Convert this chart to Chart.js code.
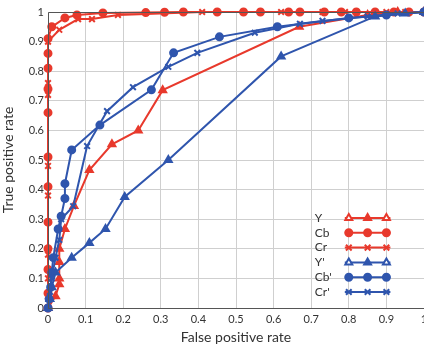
<!DOCTYPE html>
<html>
<head>
<meta charset="utf-8">
<script src="https://cdn.jsdelivr.net/npm/chart.js@4/dist/chart.umd.min.js"></script>
<style>
  html, body { margin: 0; padding: 0; background: #fff; overflow: hidden; }
  /* the plot runs past the right edge of the window, as in the reference */
  #wrap { width: 430px; height: 348px; position: relative; }
</style>
</head>
<body>
<div id="wrap"><canvas id="roc"></canvas></div>
<script>
const tickValues = [0, 0.1, 0.2, 0.3, 0.4, 0.5, 0.6, 0.7, 0.8, 0.9, 1];

// red: Y, Cb, Cr
const yFpr  = [0, 0.02, 0.03, 0.03, 0.03, 0.03, 0.045, 0.069, 0.11, 0.17, 0.24, 0.305, 0.668, 0.85, 0.93, 1];
const yTpr  = [0, 0.04, 0.08, 0.1, 0.155, 0.2, 0.267, 0.345, 0.466, 0.553, 0.60, 0.736, 0.95, 0.99, 1, 1];

const cbFpr = [0, 0, 0, 0, 0, 0, 0, 0, 0, 0, 0, 0, 0.01, 0.045, 0.077, 0.146, 0.26, 0.31, 0.36, 0.45, 0.52, 0.565, 0.64, 0.67, 0.735, 0.78, 0.82, 0.87, 0.92, 0.96, 1];
const cbTpr = [0, 0.05, 0.13, 0.2, 0.29, 0.41, 0.51, 0.66, 0.74, 0.81, 0.86, 0.91, 0.95, 0.98, 0.99, 0.997, 0.998, 0.999, 1, 1, 1, 1, 1, 1, 1, 1, 1, 1, 1, 1, 1];

const crFpr = [0, 0, 0, 0, 0, 0, 0, 0, 0, 0, 0.03, 0.08, 0.117, 0.186, 0.41, 0.62, 0.73, 0.79, 0.82, 0.9, 0.95, 1];
const crTpr = [0, 0.04, 0.1, 0.18, 0.29, 0.38, 0.48, 0.72, 0.76, 0.9, 0.94, 0.976, 0.976, 0.99, 1, 1, 1, 1, 1, 1, 1, 1];

// blue: Y', Cb', Cr'
const ypFpr  = [0, 0.005, 0.01, 0.02, 0.063, 0.11, 0.153, 0.204, 0.32, 0.62, 0.87, 0.95, 1];
const ypTpr  = [0, 0.03, 0.07, 0.12, 0.17, 0.22, 0.267, 0.375, 0.50, 0.85, 0.985, 0.995, 1];

const cbpFpr = [0, 0.003, 0.007, 0.01, 0.014, 0.027, 0.035, 0.045, 0.045, 0.063, 0.138, 0.275, 0.334, 0.456, 0.61, 0.8, 0.9, 1];
const cbpTpr = [0, 0.03, 0.07, 0.12, 0.17, 0.267, 0.31, 0.37, 0.42, 0.534, 0.618, 0.737, 0.862, 0.916, 0.95, 0.98, 0.99, 1];

const crpFpr = [0, 0.005, 0.01, 0.02, 0.03, 0.035, 0.067, 0.104, 0.157, 0.226, 0.32, 0.397, 0.55, 0.67, 0.73, 0.85, 0.93, 1];
const crpTpr = [0, 0.04, 0.1, 0.17, 0.23, 0.3, 0.344, 0.547, 0.665, 0.746, 0.815, 0.862, 0.93, 0.96, 0.97, 0.985, 0.995, 1];

const RED = '#e8392c';
const BLUE = '#2f55ad';
const FONT = 'Lato, "Open Sans", sans-serif';

const pts = (xs, ys) => xs.map((x, i) => ({ x: x, y: ys[i] }));

const series = [
    { label: 'Y',   color: RED,  style: 'triangle', r: 4,   data: pts(yFpr, yTpr) },
    { label: 'Cb',  color: RED,  style: 'circle',   r: 3.5, data: pts(cbFpr, cbTpr) },
    { label: 'Cr',  color: RED,  style: 'crossRot', r: 4,   data: pts(crFpr, crTpr) },
    { label: "Y'",  color: BLUE, style: 'triangle', r: 4,   data: pts(ypFpr, ypTpr) },
    { label: "Cb'", color: BLUE, style: 'circle',   r: 3.5, data: pts(cbpFpr, cbpTpr) },
    { label: "Cr'", color: BLUE, style: 'crossRot', r: 4,   data: pts(crpFpr, crpTpr) }
];

// box round the plot and the MATLAB-style legend with three markers per row
const framePlugin = {
    id: 'frame',
    afterDraw(chart) {
        const { ctx, chartArea: a } = chart;
        ctx.save();
        ctx.strokeStyle = '#555';
        ctx.lineWidth = 1;
        ctx.beginPath();
        ctx.moveTo(a.right + 1, a.top + 0.5);
        ctx.lineTo(a.left + 0.5, a.top + 0.5);
        ctx.lineTo(a.left + 0.5, a.bottom + 0.5);
        ctx.lineTo(a.right + 1, a.bottom + 0.5);
        ctx.stroke();

        const xs = chart.scales.x;
        const x0 = xs.getPixelForValue(0.8), x1 = xs.getPixelForValue(0.85), x2 = xs.getPixelForValue(0.9);
        let yy = a.top + 206;
        ctx.font = '12px ' + FONT;
        ctx.textAlign = 'left';
        ctx.textBaseline = 'middle';
        series.forEach(s => {
            ctx.fillStyle = '#333';
            ctx.fillText(s.label, x0 - 34, yy);
            ctx.strokeStyle = s.color;
            ctx.lineWidth = 2;
            ctx.beginPath();
            ctx.moveTo(x0 - 4, yy);
            ctx.lineTo(x2 + 4, yy);
            ctx.stroke();
            [x0, x1, x2].forEach((px, i) => {
                const hollow = s.style === 'triangle' && i !== 1;
                ctx.fillStyle = hollow ? '#fff' : s.color;
                ctx.strokeStyle = s.color;
                ctx.lineWidth = 2;
                Chart.helpers.drawPoint(ctx, { pointStyle: s.style, radius: s.r, borderWidth: 2, rotation: 0 }, px, yy);
            });
            yy += 14.8;
        });
        ctx.restore();
    }
};

new Chart(document.getElementById('roc'), {
    type: 'line',
    data: {
        datasets: series.slice().reverse().map(s => ({
            label: s.label,
            data: s.data,
            borderColor: s.color,
            backgroundColor: s.color,
            borderWidth: 2,
            pointStyle: s.style,
            pointRadius: s.r,
            pointBorderWidth: 2,
            fill: false,
            tension: 0,
            clip: 8
        }))
    },
    options: {
        responsive: true,
        maintainAspectRatio: false,
        animation: { duration: 0 },
        layout: { padding: { top: 12, right: 0, left: 0, bottom: 0 } },
        plugins: { legend: { display: false }, tooltip: { enabled: false } },
        scales: {
            x: {
                type: 'linear', min: 0, max: 1,
                afterBuildTicks: s => { s.ticks = tickValues.map(v => ({ value: v })); },
                afterFit: s => { s.height = 40; s.paddingLeft = 0; s.paddingRight = 0; },
                grid: { color: '#cfcfcf', lineWidth: 1, borderDash: [1, 3], drawTicks: false },
                border: { display: false },
                ticks: { color: '#333', font: { family: FONT, size: 11 }, padding: 5, maxRotation: 0,
                         callback: v => String(v) },
                title: { display: true, text: 'False positive rate', color: '#333',
                         font: { family: FONT, size: 14 }, padding: { top: 0, bottom: 2 } }
            },
            y: {
                type: 'linear', min: 0, max: 1,
                afterBuildTicks: s => { s.ticks = tickValues.map(v => ({ value: v })); },
                afterFit: s => { s.width = 48; s.paddingTop = 0; s.paddingBottom = 0; },
                grid: { color: '#cfcfcf', lineWidth: 1, borderDash: [1, 3], drawTicks: false },
                border: { display: false },
                ticks: { color: '#333', font: { family: FONT, size: 11 }, padding: 4,
                         callback: v => String(v) },
                title: { display: true, text: 'True positive rate', color: '#333',
                         font: { family: FONT, size: 14 }, padding: { top: 0, bottom: 2 } }
            }
        }
    },
    plugins: [framePlugin]
});
</script>
</body>
</html>
